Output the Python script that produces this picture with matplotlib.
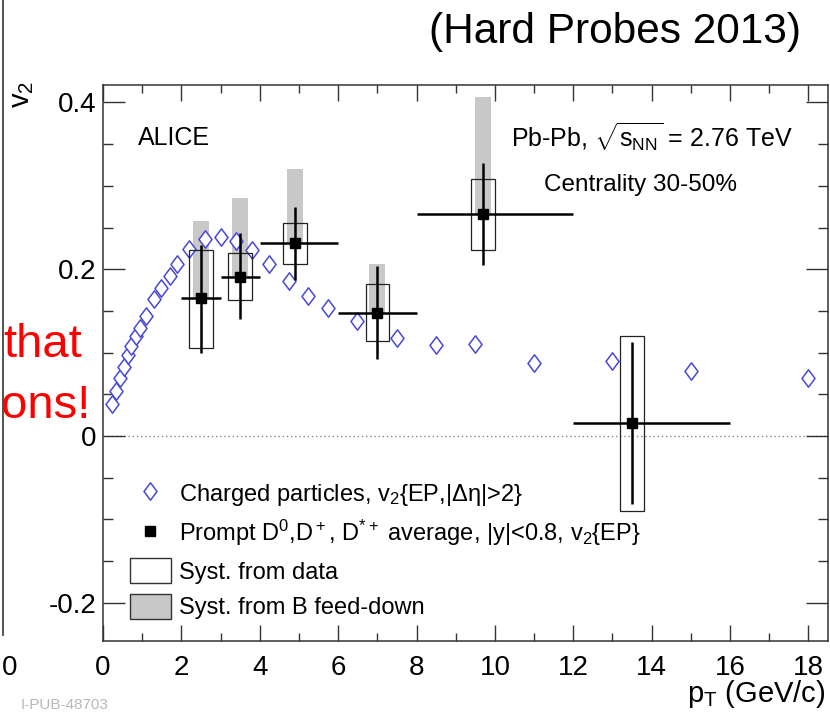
import matplotlib
matplotlib.use('Agg')
import matplotlib.pyplot as plt
from matplotlib.lines import Line2D
from matplotlib.patches import Patch
from matplotlib.path import Path
from matplotlib.ticker import MultipleLocator
import numpy as np

plt.rcParams['font.family'] = ['Liberation Sans', 'DejaVu Sans']
plt.rcParams['mathtext.fontset'] = 'custom'
plt.rcParams['mathtext.rm'] = 'Liberation Sans'
plt.rcParams['mathtext.it'] = 'Liberation Sans:italic'
plt.rcParams['mathtext.default'] = 'regular'

# charged particles v2{EP,|deta|>2}
ch_pt = [0.24, 0.34, 0.44, 0.53, 0.64, 0.72, 0.83, 0.94, 1.09, 1.29, 1.49, 1.70,
         1.90, 2.19, 2.60, 3.00, 3.40, 3.80, 4.24, 4.74, 5.23, 5.74, 6.49, 7.49,
         8.5, 9.5, 11.0, 13.0, 15.0, 18.0]
ch_v2 = [0.038, 0.054, 0.069, 0.083, 0.097, 0.108, 0.120, 0.130, 0.144, 0.164, 0.178, 0.192,
         0.206, 0.224, 0.236, 0.239, 0.234, 0.223, 0.206, 0.186, 0.168, 0.153, 0.138, 0.117,
         0.109, 0.110, 0.088, 0.090, 0.078, 0.069]
ch_err = [0, 0, 0, 0, 0, 0, 0, 0, 0, 0, 0, 0,
          0, 0, 0, 0, 0, 0, 0, 0, 0, 0, 0, 0,
          0.002, 0.002, 0.003, 0.005, 0.009, 0.007]

# prompt D mesons
d_pt = [2.5, 3.5, 4.9, 7.0, 9.7, 13.5]
d_v2 = [0.165, 0.191, 0.231, 0.147, 0.266, 0.016]
d_ptlow = [2, 3, 4, 6, 8, 12]
d_pthigh = [3, 4, 6, 8, 12, 16]
d_stat_up = [0.064, 0.052, 0.044, 0.057, 0.061, 0.097]
d_stat_dn = [0.065, 0.051, 0.044, 0.055, 0.061, 0.098]
d_syst_up = [0.058, 0.029, 0.024, 0.035, 0.042, 0.104]
d_syst_dn = [0.059, 0.028, 0.025, 0.033, 0.043, 0.106]
d_feed_up = [0.093, 0.094, 0.089, 0.059, 0.140, 0.0]

xtick_vals = [0, 2, 4, 6, 8, 10, 12, 14, 16, 18]
ytick_vals = [-0.2, 0, 0.2, 0.4]
ytick_labels = ['-0.2', '0', '0.2', '0.4']

d_pt = np.array(d_pt)
d_v2 = np.array(d_v2)

fig = plt.figure(figsize=(8.3, 7.13), dpi=100)
ax = fig.add_axes([0.1241, 0.101, 0.8735, 0.7798])

# B feed-down syst (gray)
ax.bar(d_pt, d_feed_up, bottom=d_v2, width=0.4, color='#c8c8c8', edgecolor='none', zorder=1)

# charged particles, open diamonds
diam = Path([(0, 1), (0.75, 0), (0, -1), (-0.75, 0), (0, 1)],
            [Path.MOVETO, Path.LINETO, Path.LINETO, Path.LINETO, Path.CLOSEPOLY])
ch_col = '#4848d8'
ax.errorbar(ch_pt, ch_v2, yerr=ch_err, fmt='none', ecolor=ch_col, elinewidth=1.0, zorder=2)
ax.plot(ch_pt, ch_v2, ls='none', marker=diam, ms=12.5, mfc='white', mec=ch_col, mew=1.1, zorder=2)

# syst from data (open boxes)
ax.bar(d_pt, np.array(d_syst_up) + np.array(d_syst_dn), bottom=d_v2 - np.array(d_syst_dn),
       width=0.6, fill=False, edgecolor='#222222', linewidth=0.9, zorder=3)

# D meson points with stat errors
ax.errorbar(d_pt, d_v2,
            xerr=[d_pt - np.array(d_ptlow), np.array(d_pthigh) - d_pt],
            yerr=[d_stat_dn, d_stat_up],
            fmt='s', color='black', ms=7, elinewidth=1.8, capsize=0, zorder=4)

ax.axhline(0, color='#888888', lw=1.0, ls=(0, (1, 2)), zorder=0)

ax.set_xlim(0, 18.5)
ax.set_ylim(-0.246, 0.421)
ax.set_xticks(xtick_vals)
ax.set_xticklabels([str(v) for v in xtick_vals])
ax.set_yticks(ytick_vals)
ax.set_yticklabels(ytick_labels)
ax.xaxis.set_minor_locator(MultipleLocator(1))
ax.yaxis.set_minor_locator(MultipleLocator(0.05))
ax.tick_params(which='both', direction='in', top=True, right=True, labelsize=20, width=1.0,
               color='#333333')
ax.tick_params(axis='x', which='major', length=11.5, pad=10)
ax.tick_params(axis='x', which='minor', length=5.8)
ax.tick_params(axis='y', which='major', length=15.5, pad=5)
ax.tick_params(axis='y', which='minor', length=7)
for s in ax.spines.values():
    s.set_linewidth(1.1)
    s.set_color('#333333')

ax.text(0.048, 0.905, 'ALICE', transform=ax.transAxes, fontsize=18, va='center')
ax.text(0.563, 0.905, r'Pb-Pb, $\sqrt{s_{NN}}$ = 2.76 TeV', transform=ax.transAxes,
        fontsize=18, va='center')
ax.text(0.608, 0.82, 'Centrality 30-50%', transform=ax.transAxes, fontsize=17.5, va='center')

handles = [
    Line2D([], [], ls='none', marker=diam, ms=12.5, mfc='white', mec=ch_col, mew=1.1),
    Line2D([], [], ls='none', marker='s', ms=7, color='black'),
    Patch(facecolor='white', edgecolor='#333333', lw=1.0),
    Patch(facecolor='#c8c8c8', edgecolor='#333333', lw=1.0),
]
labels = [
    'Charged particles, v$_2${EP,|$\\Delta\\eta$|>2}',
    'Prompt D$^0$,D$^+$, D$^{*+}$ average, |y|<0.8, v$_2${EP}',
    'Syst. from data',
    'Syst. from B feed-down',
]
ax.legend(handles, labels, loc='upper left', bbox_to_anchor=(0.037, 0.288), frameon=False,
          fontsize=17, handlelength=1.75, handleheight=1.25, handletextpad=0.35,
          labelspacing=0.42, borderpad=0, borderaxespad=0)

fig.text(0.741, 0.955, '(Hard Probes 2013)', fontsize=30.5, ha='center', va='center')
fig.text(0.994, 0.026, r'p$_T$ (GeV/c)', fontsize=21, ha='right', va='center')
fig.text(0.027, 0.868, r'v$_2$', fontsize=21, rotation=90, ha='center', va='center')

# pieces of the neighbouring slide content
fig.text(0.099, 0.516, 'that', fontsize=34, color='#ff0000', ha='right', va='center')
fig.text(0.001, 0.43, 'ons!', fontsize=34, color='#ff0000', ha='left', va='center')
fig.text(0.002, 0.063, '0', fontsize=20, ha='left', va='center')
fig.text(0.025, 0.002, 'I-PUB-48703', fontsize=11, color='#b8b8b8', ha='left', va='bottom')
fig.add_artist(Line2D([0.004, 0.004], [0.11, 1.0], transform=fig.transFigure, color='#333333', lw=1.2))

fig.savefig('out.png', dpi=100)
